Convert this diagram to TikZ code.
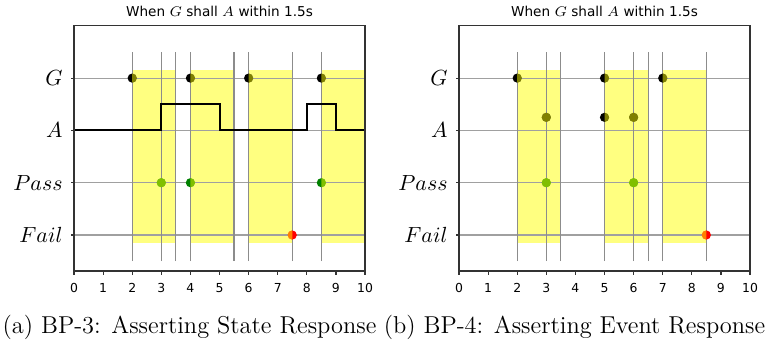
\documentclass[tikz,border=0pt]{standalone}
\usepackage{fontspec}
\newfontfamily\plotfont{DejaVu Sans}

\definecolor{winyellow}{RGB}{255,255,0}
\definecolor{gridgray}{RGB}{160,160,160}
\definecolor{vgray}{RGB}{140,140,140}
\definecolor{passgreen}{RGB}{0,128,0}
\definecolor{failred}{RGB}{255,0,0}

\tikzset{
  rowlabel/.style={anchor=east, inner sep=0pt, font=\fontsize{10.5}{12}\selectfont},
  ticklabel/.style={anchor=north, inner sep=0pt, font=\plotfont\fontsize{6.2}{7}\selectfont},
  plottitle/.style={anchor=base, inner sep=0pt, font=\plotfont\fontsize{6.8}{8}\selectfont},
  captext/.style={anchor=base, inner sep=0pt, font=\fontsize{12.2}{14}\selectfont},
  hgrid/.style={gridgray, line width=0.6pt},
  vgrid/.style={vgray, line width=0.6pt},
  frame/.style={black!80, line width=0.6pt},
  signal/.style={black, line width=1pt},
  dot/.style={radius=2.3pt},
}

\begin{document}
\begin{tikzpicture}
  \useasboundingbox (0,0) rectangle (388pt,172.5pt);

  % (a) state response
  \begin{scope}[shift={(37pt,55pt)}, x=14.55pt, y=26.15pt]
    \coordinate (boxSWa) at (0,-0.69);
    \coordinate (boxNEa) at (10,4);

    % response windows
    \foreach \a/\b in {2/3.5, 4/5.5, 6/7.5, 8.5/10}
      \fill[winyellow!50] (\a,-0.16) rectangle (\b,3.15);

    % grid
    \foreach \r in {0,1,2,3}
      \draw[hgrid] (0,\r) -- (10,\r);
    \foreach \x in {2,3,3.5,4,5.5,6,7.5,8.5}
      \draw[vgrid] (\x,-0.5) -- (\x,3.5);

    % markers
    \foreach \x/\y/\c in {2/3/black, 4/3/black, 6/3/black, 8.5/3/black,
                          3/1/passgreen, 4/1/passgreen, 8.5/1/passgreen,
                          7.5/0/failred}
      \fill[\c] (\x,\y) circle[dot];
    \begin{scope}
      \clip (2,-1) rectangle (3.5,4) (4,-1) rectangle (5.5,4)
            (6,-1) rectangle (7.5,4) (8.5,-1) rectangle (10,4);
      \foreach \x/\y in {2/3, 4/3, 6/3, 8.5/3, 3/1, 4/1, 8.5/1, 7.5/0}
        \fill[winyellow, opacity=0.5] (\x,\y) circle[dot];
    \end{scope}

    % signal A
    \draw[signal] (0,2) -- (3,2) -- (3,2.5) -- (5,2.5) -- (5,2)
      -- (8,2) -- (8,2.5) -- (9,2.5) -- (9,2) -- (10,2);

    % axes
    \draw[frame] (boxSWa) rectangle (boxNEa);
    \foreach \x in {0,...,10} {
      \draw[frame] (\x,-0.69) -- ++(0,-1.75pt);
      \node[ticklabel] (xa\x) at ([yshift=-6pt]\x,-0.69) {\x};
    }
    \foreach \r/\t/\n in {3/G/G, 2/A/A, 1/Pass/P, 0/Fail/F} {
      \draw[frame] (0,\r) -- ++(-1.75pt,0);
      \node[rowlabel] (rowa\n) at ([xshift=-5.5pt]0,\r) {$\t$};
    }
    \node[plottitle] (titlea) at ([yshift=4.5pt]5,4) {When $G$ shall $A$ within 1.5s};
  \end{scope}

  % (b) event response
  \begin{scope}[shift={(229.5pt,55pt)}, x=14.55pt, y=26.15pt]
    \coordinate (boxSWb) at (0,-0.69);
    \coordinate (boxNEb) at (10,4);

    % response windows
    \foreach \a/\b in {2/3.5, 5/6.5, 7/8.5}
      \fill[winyellow!50] (\a,-0.16) rectangle (\b,3.15);

    % grid
    \foreach \r in {0,1,2,3}
      \draw[hgrid] (0,\r) -- (10,\r);
    \foreach \x in {2,3,3.5,5,6,6.5,7,8.5}
      \draw[vgrid] (\x,-0.5) -- (\x,3.5);

    % markers
    \foreach \x/\y/\c in {2/3/black, 5/3/black, 7/3/black,
                          3/2.25/black, 5/2.25/black, 6/2.25/black,
                          3/1/passgreen, 6/1/passgreen,
                          8.5/0/failred}
      \fill[\c] (\x,\y) circle[dot];
    \begin{scope}
      \clip (2,-1) rectangle (3.5,4) (5,-1) rectangle (6.5,4)
            (7,-1) rectangle (8.5,4);
      \foreach \x/\y in {2/3, 5/3, 7/3, 3/2.25, 5/2.25, 6/2.25, 3/1, 6/1, 8.5/0}
        \fill[winyellow, opacity=0.5] (\x,\y) circle[dot];
    \end{scope}

    % axes
    \draw[frame] (boxSWb) rectangle (boxNEb);
    \foreach \x in {0,...,10} {
      \draw[frame] (\x,-0.69) -- ++(0,-1.75pt);
      \node[ticklabel] (xb\x) at ([yshift=-6pt]\x,-0.69) {\x};
    }
    \foreach \r/\t/\n in {3/G/G, 2/A/A, 1/Pass/P, 0/Fail/F} {
      \draw[frame] (0,\r) -- ++(-1.75pt,0);
      \node[rowlabel] (rowb\n) at ([xshift=-5.5pt]0,\r) {$\t$};
    }
    \node[plottitle] (titleb) at ([yshift=4.5pt]5,4) {When $G$ shall $A$ within 1.5s};
  \end{scope}

  % captions
  \node[captext] (capa) at (94.75pt,6pt) {(a) BP-3: Asserting State Response};
  \node[captext] (capb) at (287.25pt,6pt) {(b) BP-4: Asserting Event Response};
\end{tikzpicture}
\end{document}
